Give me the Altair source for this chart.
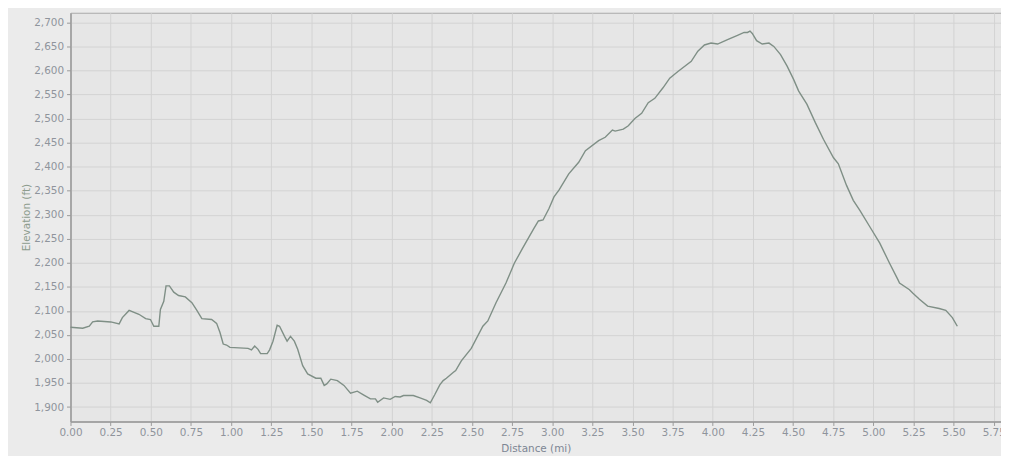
import altair as alt
import pandas as pd

dist = [0.000, 0.076, 0.117, 0.138, 0.169, 0.251, 0.303, 0.323, 0.365, 0.426,
        0.468, 0.498, 0.519, 0.550, 0.560, 0.581, 0.595, 0.616, 0.643, 0.673,
        0.715, 0.756, 0.787, 0.818, 0.879, 0.910, 0.931, 0.951, 0.972, 0.993,
        1.106, 1.127, 1.147, 1.168, 1.184, 1.225, 1.240, 1.261, 1.287, 1.302,
        1.333, 1.349, 1.370, 1.394, 1.415, 1.446, 1.477, 1.528, 1.559, 1.580,
        1.596, 1.621, 1.662, 1.703, 1.744, 1.786, 1.827, 1.868, 1.899, 1.913,
        1.950, 1.991, 2.022, 2.053, 2.074, 2.135, 2.177, 2.218, 2.241, 2.269,
        2.300, 2.321, 2.341, 2.383, 2.399, 2.434, 2.496, 2.568, 2.599, 2.650,
        2.712, 2.764, 2.815, 2.887, 2.914, 2.943, 2.980, 3.011, 3.042, 3.103,
        3.165, 3.207, 3.289, 3.330, 3.375, 3.392, 3.443, 3.474, 3.515, 3.557,
        3.598, 3.639, 3.690, 3.732, 3.783, 3.866, 3.907, 3.948, 3.989, 4.030,
        4.092, 4.154, 4.195, 4.216, 4.232, 4.246, 4.273, 4.308, 4.350, 4.380,
        4.422, 4.463, 4.504, 4.535, 4.586, 4.638, 4.689, 4.751, 4.782, 4.833,
        4.875, 4.916, 4.978, 5.040, 5.101, 5.153, 5.163, 5.225, 5.245, 5.287,
        5.338, 5.410, 5.451, 5.492, 5.523]

elev = [2066, 2064, 2068, 2077, 2079, 2077, 2073, 2086, 2101, 2093,
        2084, 2082, 2068, 2068, 2103, 2120, 2152, 2152, 2139, 2132,
        2129, 2117, 2101, 2084, 2082, 2074, 2055, 2031, 2029, 2024,
        2022, 2019, 2027, 2020, 2011, 2011, 2019, 2037, 2070, 2068,
        2047, 2037, 2047, 2037, 2020, 1986, 1969, 1960, 1960, 1945,
        1948, 1958, 1955, 1945, 1929, 1933, 1925, 1917, 1917, 1910,
        1919, 1916, 1922, 1921, 1924, 1924, 1919, 1914, 1909, 1926,
        1946, 1955, 1960, 1972, 1976, 1996, 2022, 2068, 2079, 2117,
        2158, 2199, 2230, 2272, 2287, 2289, 2313, 2337, 2351, 2385,
        2409, 2433, 2454, 2461, 2476, 2474, 2478, 2485, 2500, 2511,
        2533, 2542, 2564, 2584, 2598, 2619, 2640, 2653, 2657, 2655,
        2664, 2673, 2679, 2679, 2682, 2677, 2662, 2655, 2657, 2650,
        2633, 2609, 2581, 2557, 2530, 2492, 2457, 2419, 2406, 2361,
        2330, 2309, 2275, 2241, 2199, 2165, 2158, 2144, 2137, 2124,
        2110, 2105, 2101, 2086, 2068]

x_ticks = [i * 0.25 for i in range(24)]
y_ticks = list(range(1900, 2701, 50))

df = pd.DataFrame({"dist": dist, "elev": elev})

W, H = 938, 412

chart = alt.Chart(df).mark_line(color="#7f8f86", strokeWidth=1.4).encode(
    x=alt.X("dist:Q",
            scale=alt.Scale(domain=[0, 5.795], nice=False, zero=False),
            axis=alt.Axis(values=x_ticks, format=".2f", title="Distance (mi)",
                          titleX=W / 2, titleY=27, titleBaseline="middle",
                          titleAlign="center", titleColor="#7d8694",
                          titleFontWeight="normal", titleFontSize=10.5,
                          labelPadding=2, labelFlush=False)),
    y=alt.Y("elev:Q",
            scale=alt.Scale(domain=[1870, 2720], nice=False, zero=False),
            axis=alt.Axis(values=y_ticks, format=",d", title="Elevation (ft)",
                          titleAngle=-90, titleX=-44, titleY=206,
                          titleAlign="center", titleBaseline="middle",
                          titleColor="#8d9c8e", titleFontWeight="normal",
                          titleFontSize=10.5, labelPadding=3)),
).properties(
    width=W, height=H,
    autosize=alt.AutoSizeParams(type="none"),
    padding={"left": 63, "top": 3, "right": 0, "bottom": 33},
    background="#ebebeb",
).configure_view(
    fill="#e6e6e6", stroke="#a9a9a9", strokeWidth=1,
).configure_axis(
    labelFont="DejaVu Sans", titleFont="DejaVu Sans",
    labelFontSize=10.5, labelColor="#8f949c",
    domainColor="#9a9a9a", domainWidth=1.5,
    tickColor="#9a9a9a", tickSize=4,
    gridColor="#d2d2d2", gridWidth=1,
)

chart.save("out.html", embed_options={"renderer": "svg", "actions": False})
